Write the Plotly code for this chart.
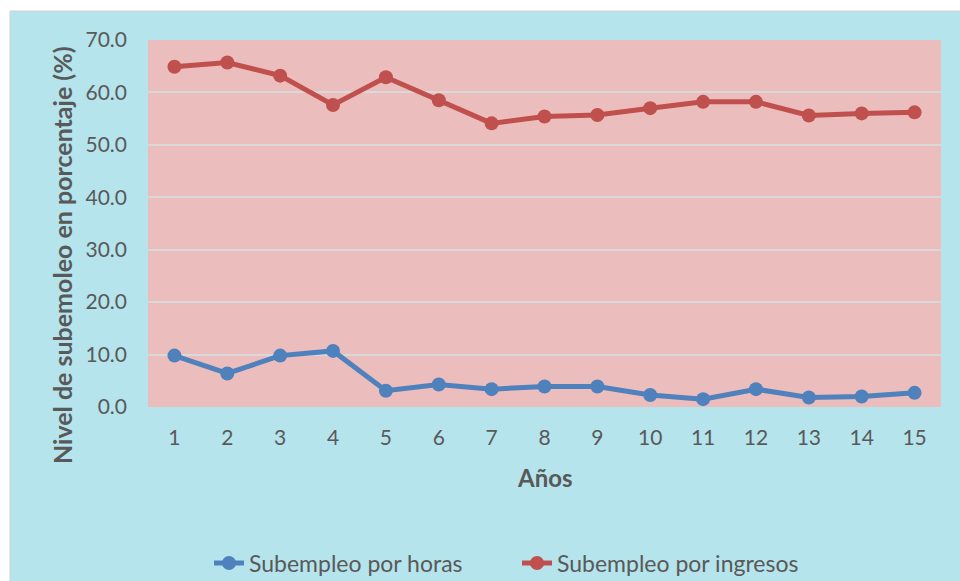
import plotly.graph_objects as go

years = list(range(1, 16))
horas = [9.8, 6.4, 9.8, 10.7, 3.1, 4.3, 3.4, 3.9, 3.9, 2.3, 1.5, 3.4, 1.8, 2.0, 2.7]
ingresos = [64.9, 65.7, 63.2, 57.6, 62.9, 58.5, 54.1, 55.4, 55.7, 57.0, 58.2, 58.2, 55.6, 56.0, 56.2]
y_ticks = [0, 10, 20, 30, 40, 50, 60, 70]

font_family = "Lato, 'Open Sans', sans-serif"
txt = "#595959"

fig = go.Figure()
fig.add_trace(go.Scatter(
    x=years, y=horas, name="Subempleo por horas", mode="lines+markers",
    line=dict(color="#4f81bd", width=5), marker=dict(size=14, color="#4f81bd")))
fig.add_trace(go.Scatter(
    x=years, y=ingresos, name="Subempleo por ingresos", mode="lines+markers",
    line=dict(color="#c0504d", width=5), marker=dict(size=14, color="#c0504d")))

W, H = 960, 581
L, T = 148, 40
pw, ph = 793, 367
R = W - L - pw
B = H - T - ph


def px_x(v):
    return (v - L) / pw


def px_y(v):
    return (T + ph - v) / ph


# white outer strips (top/left) and thin grey chart border
fig.add_shape(type="rect", xref="paper", yref="paper", x0=px_x(-2), x1=px_x(10),
              y0=px_y(H + 2), y1=px_y(-2), fillcolor="white", line=dict(width=0),
              layer="below")
fig.add_shape(type="rect", xref="paper", yref="paper", x0=px_x(-2), x1=px_x(W + 2),
              y0=px_y(11), y1=px_y(-2), fillcolor="white", line=dict(width=0),
              layer="below")
fig.add_shape(type="rect", xref="paper", yref="paper", x0=px_x(10), x1=px_x(W + 5),
              y0=px_y(H + 5), y1=px_y(11), fillcolor="rgba(0,0,0,0)",
              line=dict(color="#d0d0d0", width=1), layer="below")

fig.add_annotation(text="<b>Nivel de subemoleo en porcentaje (%)</b>", textangle=-90,
                   xref="paper", yref="paper", x=px_x(62), y=px_y(255),
                   xanchor="center", yanchor="middle", showarrow=False,
                   font=dict(size=25, color=txt))
fig.add_annotation(text="<b>Años</b>", xref="paper", yref="paper",
                   x=0.5, y=px_y(477), xanchor="center", yanchor="middle",
                   showarrow=False, font=dict(size=24, color=txt))

fig.update_layout(
    width=W, height=H,
    margin=dict(l=L, r=R, t=T, b=B),
    paper_bgcolor="#b5e4ec",
    plot_bgcolor="#ebbdbd",
    font=dict(family=font_family, color=txt, size=21),
    showlegend=True,
    legend=dict(orientation="h", xref="container", yref="container",
                x=209 / W, xanchor="left", y=1 - 563 / H, yanchor="middle",
                font=dict(size=23, color=txt), bgcolor="rgba(0,0,0,0)",
                entrywidth=263, traceorder="normal"),
    xaxis=dict(range=[0.5, 15.5], tickmode="array", tickvals=years,
               ticktext=[str(v) for v in years], showgrid=False, zeroline=False,
               showline=False, ticks="", ticklabelstandoff=16, automargin=False,
               tickfont=dict(size=21)),
    yaxis=dict(range=[0, 70], tickmode="array", tickvals=y_ticks,
               ticktext=[f"{v:.1f}" for v in y_ticks], showgrid=True,
               gridcolor="#d9d9d9", gridwidth=1.5, zeroline=False, showline=False,
               ticks="", ticklabelstandoff=20, automargin=False,
               tickfont=dict(size=21)),
)

fig.write_html("out.html", config={"displayModeBar": False},
               post_script="document.body.style.margin='0';document.body.style.overflow='hidden';")
